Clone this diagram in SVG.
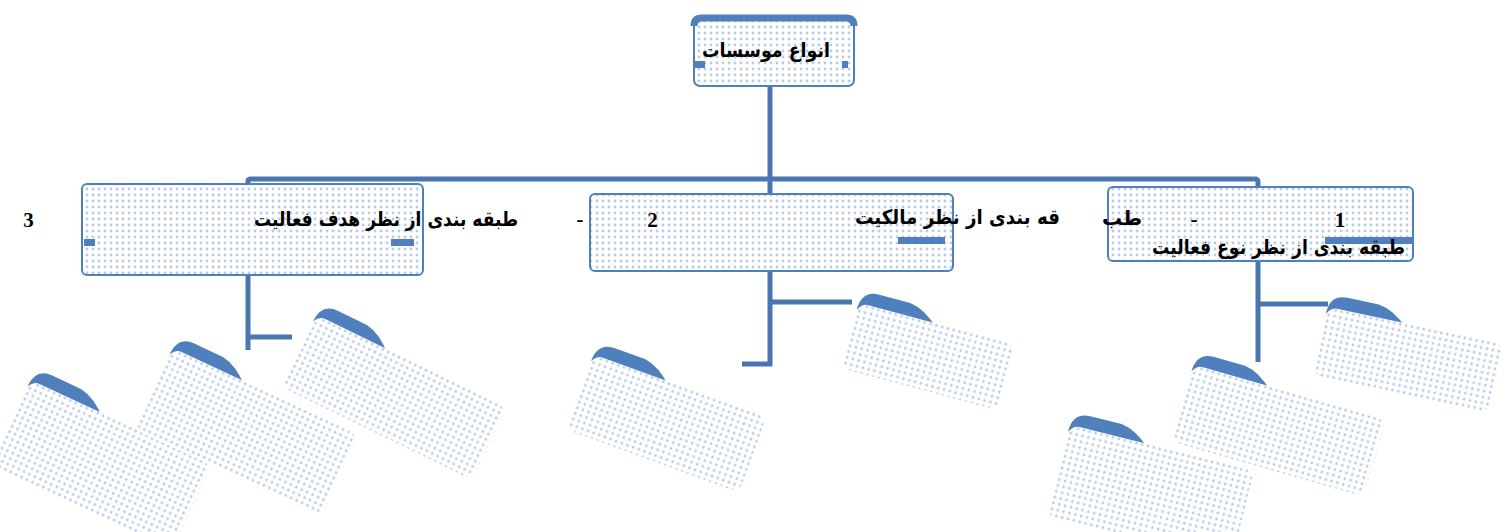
<svg xmlns="http://www.w3.org/2000/svg" width="1505" height="532" viewBox="0 0 1505 532">
<style>
.box{fill:url(#dots);stroke:#4f7fbc;stroke-width:2}
.stub{fill:#4f7fbc}
.cap{fill:#4f7fbc}
.card{fill:url(#dots)}
.conn{fill:none;stroke:#4a76b0;stroke-width:5}
.ar{font-family:"DejaVu Sans",sans-serif;font-weight:bold;font-size:20px;fill:#000}
.num{font-family:"Liberation Serif",serif;font-weight:bold;font-size:21px;fill:#000}
</style>
<defs>
<pattern id="dots" width="6" height="6" patternUnits="userSpaceOnUse">
<rect width="6" height="6" fill="#ffffff"/>
<circle cx="3" cy="3" r="1.4" fill="#b8cbe8"/>
</pattern>
</defs>
<rect width="1505" height="532" fill="#ffffff"/>
<g id="connectors">
<path class="conn" d="M770,86 V180"/>
<path class="conn" d="M248,188 V181 Q248,179 251,179 H1255 Q1258,179 1258,182 V188"/>
<path class="conn" d="M770,179 V195"/>
<path class="conn" d="M248,275 V350 M248,337 H292"/>
<path class="conn" d="M770,271 V364 H742 M770,302 H852"/>
<path class="conn" d="M1258,261 V362 M1258,304 H1328"/>
</g>
<g id="n-root">
<rect class="box" x="694" y="16" width="160" height="70" rx="6"/>
<path d="M694,26 Q694,18 702,18 H846 Q854,18 854,26" fill="none" stroke="#4f7fbc" stroke-width="7"/>
<rect class="stub" x="695" y="61" width="10" height="7"/>
<rect class="stub" x="842" y="61" width="6" height="7"/>
<text class="ar" x="766" y="57" text-anchor="middle" textLength="128" lengthAdjust="spacingAndGlyphs">انواع موسسات</text>
</g>
<g id="n-left">
<rect class="box" x="82" y="184" width="341" height="91" rx="5"/>
<rect class="stub" x="84" y="239" width="11" height="7"/>
<rect class="stub" x="391" y="239" width="23" height="7"/>
<text class="ar" x="386" y="226" text-anchor="middle" textLength="264" lengthAdjust="spacingAndGlyphs">طبقه بندی از نظر هدف فعالیت</text>
<text class="num" x="28.5" y="227" text-anchor="middle">3</text>
<text class="num" x="580" y="226" text-anchor="middle">-</text>
</g>
<g id="n-right">
<rect class="box" x="1108" y="187" width="305" height="74" rx="5"/>
<rect class="stub" x="1325" y="237" width="87" height="7"/>
<text class="num" x="1340" y="227" text-anchor="middle">1</text>
<text class="num" x="1194" y="226" text-anchor="middle">-</text>
<text class="ar" x="1278.5" y="254" text-anchor="middle" textLength="253" lengthAdjust="spacingAndGlyphs">طبقه بندی از نظر نوع فعالیت</text>
</g>
<g id="n-middle">
<rect class="box" x="590" y="194" width="363" height="77" rx="5"/>
<rect class="stub" x="898" y="237" width="47" height="7"/>
<text class="num" x="652.5" y="227" text-anchor="middle">2</text>
<text class="ar" x="957.5" y="224" text-anchor="middle" textLength="205" lengthAdjust="spacingAndGlyphs">قه بندی از نظر مالکیت</text>
<text class="ar" x="1122" y="225" text-anchor="middle">طب</text>
</g>
<g id="c-left-1" transform="translate(36,368) rotate(25)">
<path class="cap" d="M0,20 Q0,0 18,0 L50,0 Q66,2 82,18 Z"/>
<rect class="card" x="0" y="13" width="200" height="95" rx="10"/>
</g>
<g id="c-left-2" transform="translate(178,336) rotate(25)">
<path class="cap" d="M0,20 Q0,0 18,0 L50,0 Q66,2 82,18 Z"/>
<rect class="card" x="0" y="13" width="205" height="90" rx="10"/>
</g>
<g id="c-left-3" transform="translate(322,303) rotate(26)">
<path class="cap" d="M0,20 Q0,0 18,0 L50,0 Q66,2 82,18 Z"/>
<rect class="card" x="0" y="13" width="212" height="80" rx="10"/>
</g>
<g id="c-mid-1" transform="translate(598,342) rotate(20)">
<path class="cap" d="M0,20 Q0,0 18,0 L50,0 Q66,2 82,18 Z"/>
<rect class="card" x="0" y="13" width="184" height="80" rx="10"/>
</g>
<g id="c-mid-2" transform="translate(862,290) rotate(15)">
<path class="cap" d="M0,20 Q0,0 18,0 L50,0 Q66,2 82,18 Z"/>
<rect class="card" x="0" y="13" width="162" height="68" rx="10"/>
</g>
<g id="c-right-1" transform="translate(1330,294) rotate(12)">
<path class="cap" d="M0,20 Q0,0 18,0 L50,0 Q66,2 82,18 Z"/>
<rect class="card" x="0" y="13" width="180" height="70" rx="10"/>
</g>
<g id="c-right-2" transform="translate(1197,352) rotate(16)">
<path class="cap" d="M0,20 Q0,0 18,0 L50,0 Q66,2 82,18 Z"/>
<rect class="card" x="0" y="13" width="200" height="80" rx="10"/>
</g>
<g id="c-right-3" transform="translate(1073,412) rotate(14)">
<path class="cap" d="M0,20 Q0,0 18,0 L50,0 Q66,2 82,18 Z"/>
<rect class="card" x="0" y="13" width="190" height="95" rx="10"/>
</g>
</svg>
